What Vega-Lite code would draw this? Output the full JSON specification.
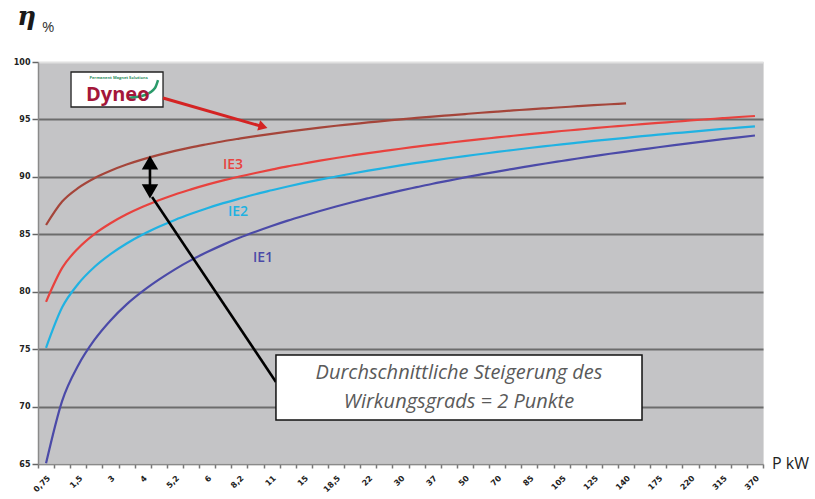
{
  "$schema": "https://vega.github.io/schema/vega-lite/v6.json",
  "width": 725,
  "height": 402,
  "autosize": {"type": "none"},
  "padding": {"left": 38, "top": 62, "right": 52, "bottom": 35},
  "background": "white",
  "config": {"view": {"fill": "#c4c4c6", "stroke": "#dcdcdc", "strokeWidth": 1}},
  "datasets": {
    "curves": [
      {"P": "0,75", "Dyneo": 85.81, "IE3": 79.12, "IE2": 75.12, "IE1": 65.06},
      {"P": "1,1", "Dyneo": 87.85, "IE3": 82.07, "IE2": 78.64, "IE1": 70.5},
      {"P": "1,5", "Dyneo": 89.04, "IE3": 83.79, "IE2": 80.69, "IE1": 73.6},
      {"P": "2,2", "Dyneo": 89.88, "IE3": 85.02, "IE2": 82.15, "IE1": 75.8},
      {"P": "3", "Dyneo": 90.53, "IE3": 85.96, "IE2": 83.27, "IE1": 77.5},
      {"P": "3,7", "Dyneo": 91.07, "IE3": 86.74, "IE2": 84.20, "IE1": 78.9},
      {"P": "4", "Dyneo": 91.52, "IE3": 87.40, "IE2": 84.98, "IE1": 80.05},
      {"P": "4,5", "Dyneo": 91.91, "IE3": 87.96, "IE2": 85.65, "IE1": 81.05},
      {"P": "5,2", "Dyneo": 92.26, "IE3": 88.47, "IE2": 86.25, "IE1": 81.95},
      {"P": "5,5", "Dyneo": 92.57, "IE3": 88.91, "IE2": 86.78, "IE1": 82.75},
      {"P": "6", "Dyneo": 92.84, "IE3": 89.32, "IE2": 87.27, "IE1": 83.45},
      {"P": "7,5", "Dyneo": 93.10, "IE3": 89.69, "IE2": 87.71, "IE1": 84.1},
      {"P": "8,2", "Dyneo": 93.33, "IE3": 90.03, "IE2": 88.11, "IE1": 84.69},
      {"P": "9,2", "Dyneo": 93.55, "IE3": 90.34, "IE2": 88.49, "IE1": 85.22},
      {"P": "11", "Dyneo": 93.75, "IE3": 90.63, "IE2": 88.83, "IE1": 85.72},
      {"P": "13", "Dyneo": 93.94, "IE3": 90.91, "IE2": 89.16, "IE1": 86.19},
      {"P": "15", "Dyneo": 94.12, "IE3": 91.16, "IE2": 89.47, "IE1": 86.62},
      {"P": "17", "Dyneo": 94.29, "IE3": 91.41, "IE2": 89.76, "IE1": 87.03},
      {"P": "18,5", "Dyneo": 94.45, "IE3": 91.64, "IE2": 90.03, "IE1": 87.42},
      {"P": "20", "Dyneo": 94.59, "IE3": 91.86, "IE2": 90.29, "IE1": 87.79},
      {"P": "22", "Dyneo": 94.74, "IE3": 92.07, "IE2": 90.54, "IE1": 88.14},
      {"P": "26", "Dyneo": 94.87, "IE3": 92.26, "IE2": 90.77, "IE1": 88.48},
      {"P": "30", "Dyneo": 95.01, "IE3": 92.45, "IE2": 91.00, "IE1": 88.80},
      {"P": "33", "Dyneo": 95.13, "IE3": 92.63, "IE2": 91.21, "IE1": 89.10},
      {"P": "37", "Dyneo": 95.25, "IE3": 92.81, "IE2": 91.42, "IE1": 89.40},
      {"P": "45", "Dyneo": 95.36, "IE3": 92.97, "IE2": 91.62, "IE1": 89.67},
      {"P": "50", "Dyneo": 95.47, "IE3": 93.13, "IE2": 91.81, "IE1": 89.95},
      {"P": "55", "Dyneo": 95.58, "IE3": 93.29, "IE2": 91.99, "IE1": 90.21},
      {"P": "70", "Dyneo": 95.68, "IE3": 93.43, "IE2": 92.17, "IE1": 90.46},
      {"P": "75", "Dyneo": 95.78, "IE3": 93.58, "IE2": 92.34, "IE1": 90.70},
      {"P": "85", "Dyneo": 95.88, "IE3": 93.72, "IE2": 92.51, "IE1": 90.93},
      {"P": "90", "Dyneo": 95.97, "IE3": 93.85, "IE2": 92.67, "IE1": 91.16},
      {"P": "105", "Dyneo": 96.06, "IE3": 93.99, "IE2": 92.83, "IE1": 91.38},
      {"P": "110", "Dyneo": 96.15, "IE3": 94.11, "IE2": 92.98, "IE1": 91.60},
      {"P": "125", "Dyneo": 96.24, "IE3": 94.24, "IE2": 93.13, "IE1": 91.80},
      {"P": "132", "Dyneo": 96.32, "IE3": 94.36, "IE2": 93.27, "IE1": 92.01},
      {"P": "140", "Dyneo": 96.40, "IE3": 94.47, "IE2": 93.40, "IE1": 92.20},
      {"P": "160", "Dyneo": null, "IE3": 94.59, "IE2": 93.54, "IE1": 92.39},
      {"P": "175", "Dyneo": null, "IE3": 94.70, "IE2": 93.67, "IE1": 92.58},
      {"P": "200", "Dyneo": null, "IE3": 94.80, "IE2": 93.80, "IE1": 92.76},
      {"P": "220", "Dyneo": null, "IE3": 94.91, "IE2": 93.92, "IE1": 92.93},
      {"P": "250", "Dyneo": null, "IE3": 95.01, "IE2": 94.05, "IE1": 93.11},
      {"P": "315", "Dyneo": null, "IE3": 95.11, "IE2": 94.17, "IE1": 93.28},
      {"P": "355", "Dyneo": null, "IE3": 95.21, "IE2": 94.28, "IE1": 93.44},
      {"P": "370", "Dyneo": null, "IE3": 95.30, "IE2": 94.40, "IE1": 93.60}
    ],
    "seriesLabels": [
      {"series": "IE3", "pos": 11.6, "v": 91.03},
      {"series": "IE2", "pos": 11.91, "v": 86.94},
      {"series": "IE1", "pos": 13.47, "v": 82.94}
    ],
    "boxes": [
      {"name": "logo", "x1": 1.55, "x2": 7.26, "y1": 99.13, "y2": 96.08},
      {"name": "note", "x1": 14.27, "x2": 36.99, "y1": 74.49, "y2": 68.83}
    ],
    "noteText": [
      {"t": "Durchschnittliche Steigerung des", "pos": 25.63, "v": 72.93},
      {"t": "Wirkungsgrads = 2 Punkte", "pos": 25.63, "v": 70.4}
    ],
    "swoosh": [
      {"pos": 5.09, "v": 96.87},
      {"pos": 6.14, "v": 97.13},
      {"pos": 6.76, "v": 97.74},
      {"pos": 6.95, "v": 98.43}
    ],
    "redArrow": [{"x1": 7.26, "y1": 96.87, "x2": 13.5, "y2": 94.35}],
    "redHead": [{"pos": 13.47, "v": 94.37}],
    "blackLines": [
      {"x1": 6.45, "y1": 91.5, "x2": 6.45, "y2": 88.5},
      {"x1": 6.58, "y1": 88.25, "x2": 14.27, "y2": 72.14}
    ],
    "blackHeads": [
      {"pos": 6.45, "v": 91.25, "dir": "up"},
      {"pos": 6.45, "v": 88.73, "dir": "down"}
    ]
  },
  "layer": [
    {
      "data": {"name": "curves"},
      "transform": [{"fold": ["Dyneo", "IE3", "IE2", "IE1"], "as": ["series", "eta"]}],
      "mark": {"type": "line", "strokeWidth": 2.2, "interpolate": "monotone"},
      "encoding": {
        "x": {
          "field": "P", "type": "ordinal", "sort": null, "bandPosition": 0.5,
          "scale": {"type": "band", "paddingInner": 0, "paddingOuter": 0},
          "axis": {
            "title": null, "tickBand": "extent", "labelAngle": -45,
            "labelExpr": "indexof(['0,75','1,5','3','4','5,2','6','8,2','11','15','18,5','22','30','37','50','70','85','105','125','140','175','220','315','370'], datum.value) >= 0 ? datum.value : ''",
            "labelFont": "DejaVu Sans", "labelFontSize": 8, "labelFontWeight": "bold",
            "labelColor": "#222222", "labelPadding": 6, "labelOverlap": false,
            "tickColor": "#777777", "tickSize": 4, "tickWidth": 1.5,
            "domainColor": "#8a8a8a", "domainWidth": 1.5, "grid": false
          }
        },
        "y": {
          "field": "eta", "type": "quantitative",
          "scale": {"domain": [65, 100], "nice": false, "zero": false},
          "axis": {
            "title": null, "values": [65, 70, 75, 80, 85, 90, 95, 100], "grid": true,
            "gridColor": {"condition": {"test": "datum.value >= 100 || datum.value <= 65", "value": "#e0e0e0"}, "value": "#6c6c6c"},
            "gridWidth": 2,
            "labelFont": "DejaVu Sans", "labelFontSize": 8, "labelFontWeight": "bold",
            "labelColor": "#222222", "labelPadding": 2,
            "tickColor": "#666666", "tickSize": 6, "tickWidth": 1.5,
            "domainColor": "#8a8a8a", "domainWidth": 1.5
          }
        },
        "color": {
          "field": "series", "type": "nominal",
          "scale": {"domain": ["Dyneo", "IE3", "IE2", "IE1"], "range": ["#a5453a", "#e8423e", "#20b2e2", "#4b4aa8"]},
          "legend": null
        }
      }
    },
    {
      "layer": [
        {
          "data": {"name": "boxes"},
          "transform": [{"filter": "datum.name == 'logo'"}],
          "mark": {"type": "rect", "fill": "white", "stroke": "#222222", "strokeWidth": 1.3},
          "encoding": {
            "x": {"field": "x1", "type": "quantitative", "scale": {"domain": [-0.5, 44.5], "nice": false, "zero": false}, "axis": null},
            "x2": {"field": "x2"},
            "y": {"field": "y1", "type": "quantitative", "scale": {"domain": [65, 100], "nice": false, "zero": false}},
            "y2": {"field": "y2"}
          }
        },
        {
          "data": {"name": "swoosh"},
          "mark": {"type": "line", "stroke": "#2a9a6a", "strokeWidth": 2.5, "interpolate": "monotone"},
          "encoding": {
            "x": {"field": "pos", "type": "quantitative", "scale": {"domain": [-0.5, 44.5], "nice": false, "zero": false}, "axis": null},
            "y": {"field": "v", "type": "quantitative", "scale": {"domain": [65, 100], "nice": false, "zero": false}}
          }
        },
        {
          "data": {"values": [{"t": "Dyneo", "pos": 4.45, "v": 97.1}]},
          "mark": {"type": "text", "font": "Open Sans", "fontSize": 20, "fontWeight": "bold", "color": "#a3173a", "baseline": "middle", "align": "center"},
          "encoding": {
            "x": {"field": "pos", "type": "quantitative", "scale": {"domain": [-0.5, 44.5], "nice": false, "zero": false}, "axis": null},
            "y": {"field": "v", "type": "quantitative", "scale": {"domain": [65, 100], "nice": false, "zero": false}},
            "text": {"field": "t"}
          }
        },
        {
          "data": {"values": [{"t": "Permanent Magnet Solutions", "pos": 4.5, "v": 98.6}]},
          "mark": {"type": "text", "font": "Open Sans", "fontSize": 4, "fontWeight": "bold", "color": "#2f8f5f", "baseline": "middle", "align": "center"},
          "encoding": {
            "x": {"field": "pos", "type": "quantitative", "scale": {"domain": [-0.5, 44.5], "nice": false, "zero": false}, "axis": null},
            "y": {"field": "v", "type": "quantitative", "scale": {"domain": [65, 100], "nice": false, "zero": false}},
            "text": {"field": "t"}
          }
        },
        {
          "data": {"name": "redArrow"},
          "mark": {"type": "rule", "color": "#d42323", "strokeWidth": 3},
          "encoding": {
            "x": {"field": "x1", "type": "quantitative", "scale": {"domain": [-0.5, 44.5], "nice": false, "zero": false}, "axis": null},
            "x2": {"field": "x2"},
            "y": {"field": "y1", "type": "quantitative", "scale": {"domain": [65, 100], "nice": false, "zero": false}},
            "y2": {"field": "y2"}
          }
        },
        {
          "data": {"name": "redHead"},
          "mark": {"type": "point", "shape": "triangle-right", "filled": true, "color": "#d42323", "size": 110, "angle": 16, "opacity": 1},
          "encoding": {
            "x": {"field": "pos", "type": "quantitative", "scale": {"domain": [-0.5, 44.5], "nice": false, "zero": false}, "axis": null},
            "y": {"field": "v", "type": "quantitative", "scale": {"domain": [65, 100], "nice": false, "zero": false}}
          }
        },
        {
          "data": {"name": "blackLines"},
          "mark": {"type": "rule", "color": "#000000", "strokeWidth": 2.6},
          "encoding": {
            "x": {"field": "x1", "type": "quantitative", "scale": {"domain": [-0.5, 44.5], "nice": false, "zero": false}, "axis": null},
            "x2": {"field": "x2"},
            "y": {"field": "y1", "type": "quantitative", "scale": {"domain": [65, 100], "nice": false, "zero": false}},
            "y2": {"field": "y2"}
          }
        },
        {
          "data": {"name": "blackHeads"},
          "mark": {"type": "point", "filled": true, "color": "#000000", "size": 270, "opacity": 1},
          "encoding": {
            "x": {"field": "pos", "type": "quantitative", "scale": {"domain": [-0.5, 44.5], "nice": false, "zero": false}, "axis": null},
            "y": {"field": "v", "type": "quantitative", "scale": {"domain": [65, 100], "nice": false, "zero": false}},
            "shape": {"field": "dir", "type": "nominal", "scale": {"domain": ["up", "down"], "range": ["triangle-up", "triangle-down"]}, "legend": null}
          }
        },
        {
          "data": {"name": "boxes"},
          "transform": [{"filter": "datum.name == 'note'"}],
          "mark": {"type": "rect", "fill": "white", "stroke": "#111111", "strokeWidth": 1.5},
          "encoding": {
            "x": {"field": "x1", "type": "quantitative", "scale": {"domain": [-0.5, 44.5], "nice": false, "zero": false}, "axis": null},
            "x2": {"field": "x2"},
            "y": {"field": "y1", "type": "quantitative", "scale": {"domain": [65, 100], "nice": false, "zero": false}},
            "y2": {"field": "y2"}
          }
        },
        {
          "data": {"name": "noteText"},
          "mark": {"type": "text", "font": "Open Sans", "fontSize": 20, "fontStyle": "italic", "color": "#5a5a5a", "baseline": "middle", "align": "center"},
          "encoding": {
            "x": {"field": "pos", "type": "quantitative", "scale": {"domain": [-0.5, 44.5], "nice": false, "zero": false}, "axis": null},
            "y": {"field": "v", "type": "quantitative", "scale": {"domain": [65, 100], "nice": false, "zero": false}},
            "text": {"field": "t"}
          }
        },
        {
          "data": {"name": "seriesLabels"},
          "mark": {"type": "text", "font": "Open Sans", "fontSize": 14, "fontWeight": 600, "baseline": "middle", "align": "center"},
          "encoding": {
            "x": {"field": "pos", "type": "quantitative", "scale": {"domain": [-0.5, 44.5], "nice": false, "zero": false}, "axis": null},
            "y": {"field": "v", "type": "quantitative", "scale": {"domain": [65, 100], "nice": false, "zero": false}},
            "text": {"field": "series"},
            "color": {"field": "series", "type": "nominal", "scale": {"domain": ["Dyneo", "IE3", "IE2", "IE1"], "range": ["#a5453a", "#e8423e", "#20b2e2", "#4b4aa8"]}, "legend": null}
          }
        },
        {
          "data": {"values": [{"t": "η", "pos": -1.2, "v": 103.2}]},
          "mark": {"type": "text", "font": "DejaVu Serif", "fontSize": 26, "fontWeight": "bold", "fontStyle": "italic", "color": "#1a1a1a", "baseline": "alphabetic", "align": "center"},
          "encoding": {
            "x": {"field": "pos", "type": "quantitative", "scale": {"domain": [-0.5, 44.5], "nice": false, "zero": false}, "axis": null},
            "y": {"field": "v", "type": "quantitative", "scale": {"domain": [65, 100], "nice": false, "zero": false}},
            "text": {"field": "t"}
          }
        },
        {
          "data": {"values": [{"t": "%", "pos": -0.25, "v": 102.6}]},
          "mark": {"type": "text", "font": "Open Sans", "fontSize": 15, "color": "#333333", "baseline": "alphabetic", "align": "left"},
          "encoding": {
            "x": {"field": "pos", "type": "quantitative", "scale": {"domain": [-0.5, 44.5], "nice": false, "zero": false}, "axis": null},
            "y": {"field": "v", "type": "quantitative", "scale": {"domain": [65, 100], "nice": false, "zero": false}},
            "text": {"field": "t"}
          }
        },
        {
          "data": {"values": [{"t": "P kW", "pos": 45.06, "v": 65.0}]},
          "mark": {"type": "text", "font": "Open Sans", "fontSize": 16, "color": "#222222", "baseline": "middle", "align": "left"},
          "encoding": {
            "x": {"field": "pos", "type": "quantitative", "scale": {"domain": [-0.5, 44.5], "nice": false, "zero": false}, "axis": null},
            "y": {"field": "v", "type": "quantitative", "scale": {"domain": [65, 100], "nice": false, "zero": false}},
            "text": {"field": "t"}
          }
        }
      ]
    }
  ],
  "resolve": {"scale": {"x": "independent"}}
}
